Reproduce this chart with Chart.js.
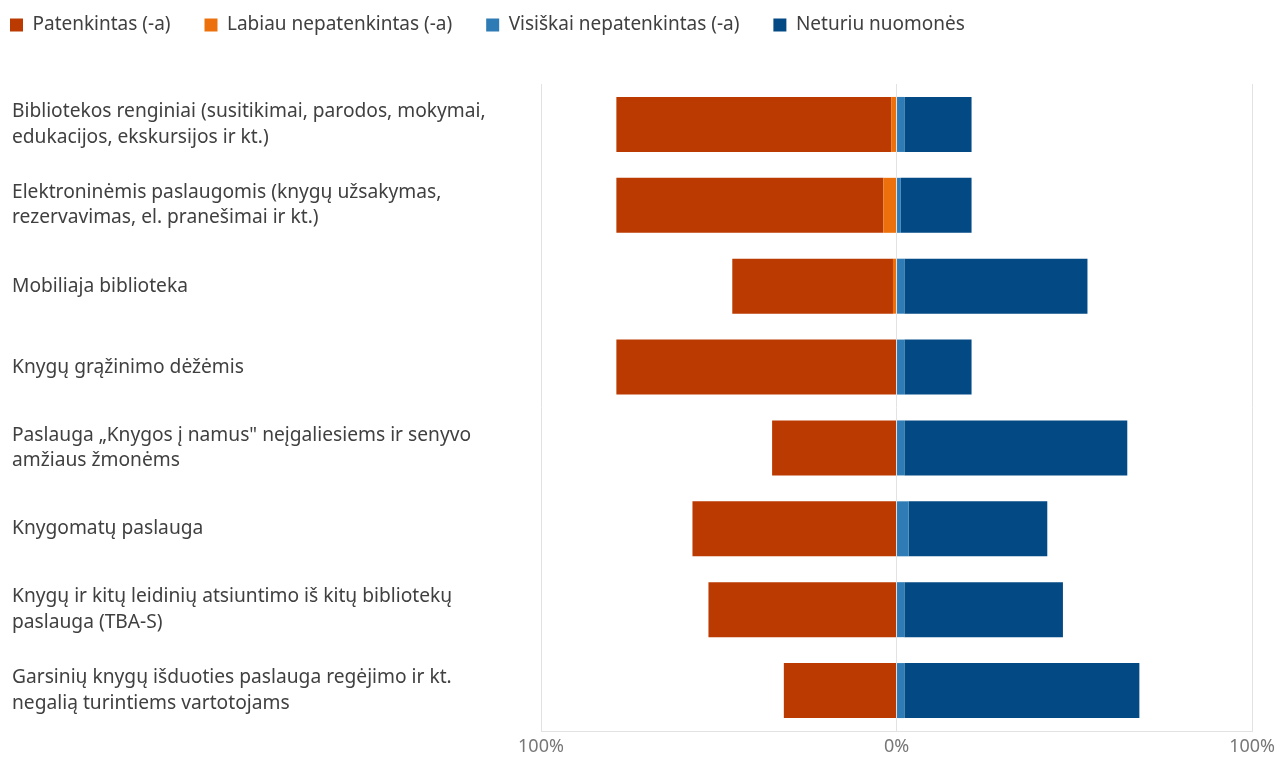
<!DOCTYPE html>
<html>
<head>
<meta charset="utf-8">
<script src="https://cdn.jsdelivr.net/npm/chart.js@4"></script>
<style>
  html, body { margin: 0; padding: 0; background: #fff; }
  #wrap { width: 1280px; height: 757px; }
</style>
</head>
<body>
<div id="wrap"><canvas id="chart"></canvas></div>
<script>
'use strict';

const categories = [
    ['Bibliotekos renginiai (susitikimai, parodos, mokymai,', 'edukacijos, ekskursijos ir kt.)'],
    ['Elektroninėmis paslaugomis (knygų užsakymas,', 'rezervavimas, el. pranešimai ir kt.)'],
    'Mobiliaja biblioteka',
    'Knygų grąžinimo dėžėmis',
    ['Paslauga „Knygos į namus" neįgaliesiems ir senyvo', 'amžiaus žmonėms'],
    'Knygomatų paslauga',
    ['Knygų ir kitų leidinių atsiuntimo iš kitų bibliotekų', 'paslauga (TBA-S)'],
    ['Garsinių knygų išduoties paslauga regėjimo ir kt.', 'negalią turintiems vartotojams'],
];

// percentages, the first two series are drawn to the left of 0
const patenkintas = [77.3, 75.1, 45.2, 78.8, 35.0, 57.4, 52.9, 31.7];
const labiauNepatenkintas = [1.5, 3.7, 1.0, 0, 0, 0, 0, 0];
const visiskaiNepatenkintas = [2.2, 1.2, 2.2, 2.2, 2.2, 3.4, 2.2, 2.2];
const neturiuNuomones = [18.9, 19.9, 51.5, 18.9, 62.7, 39.0, 44.6, 66.1];

const axisTicks = [-100, 0, 100];

const FONT = '"Noto Sans", "Open Sans", sans-serif';

// legend sits higher and further left than chart.js puts it
let legendPlacement = {
    id: 'legendPlacement',
    afterLayout: function(chart) {
        chart.legend.left = -24;
        chart.legend.top = -18.5;
    }
};

let data = {
    labels: categories,
    datasets: [{
        label: 'Patenkintas (-a)',
        data: patenkintas.map((v) => -v),
        backgroundColor: '#bb3a02',
        order: 1,
    }, {
        label: 'Labiau nepatenkintas (-a)',
        data: labiauNepatenkintas.map((v) => -v),
        backgroundColor: '#ec700b',
        order: 0,
    }, {
        label: 'Visiškai nepatenkintas (-a)',
        data: visiskaiNepatenkintas,
        backgroundColor: '#2e7bb5',
        order: 2,
    }, {
        label: 'Neturiu nuomonės',
        data: neturiuNuomones,
        backgroundColor: '#034a84',
        order: 3,
    }]
};

new Chart(document.getElementById('chart'), {
    type: 'bar',
    data: data,
    plugins: [legendPlacement],
    options: {
        indexAxis: 'y',
        responsive: true,
        maintainAspectRatio: false,
        animation: false,
        layout: {
            padding: {top: 21, left: 12, right: 26, bottom: 0}
        },
        datasets: {
            bar: {
                categoryPercentage: 1,
                barPercentage: 0.68,
                borderWidth: 0,
            }
        },
        plugins: {
            tooltip: {enabled: false},
            legend: {
                position: 'top',
                align: 'start',
                labels: {
                    boxWidth: 13,
                    boxHeight: 13,
                    padding: 34,
                    color: '#404040',
                    font: {family: FONT, size: 19},
                    sort: (a, b) => a.datasetIndex - b.datasetIndex,
                }
            }
        },
        scales: {
            x: {
                stacked: true,
                min: -100,
                max: 100,
                afterBuildTicks: (scale) => {
                    scale.ticks = axisTicks.map((v) => ({value: v}));
                },
                afterFit: (scale) => { scale.height = 26; },
                ticks: {
                    callback: (v) => Math.abs(v) + '%',
                    color: '#777',
                    padding: 5,
                    maxRotation: 0,
                    font: {family: FONT, size: 18},
                },
                grid: {
                    color: '#e2e2e2',
                    drawTicks: false,
                },
                border: {color: '#e2e2e2'},
            },
            y: {
                stacked: true,
                afterFit: (scale) => {
                    scale.width = 529;
                    scale.paddingTop = 0;
                    scale.paddingBottom = 0;
                },
                ticks: {
                    crossAlign: 'far',
                    color: '#404040',
                    font: {family: FONT, size: 19.2, lineHeight: 1.32},
                },
                grid: {display: false},
                border: {display: false},
            }
        }
    }
});
</script>
</body>
</html>
